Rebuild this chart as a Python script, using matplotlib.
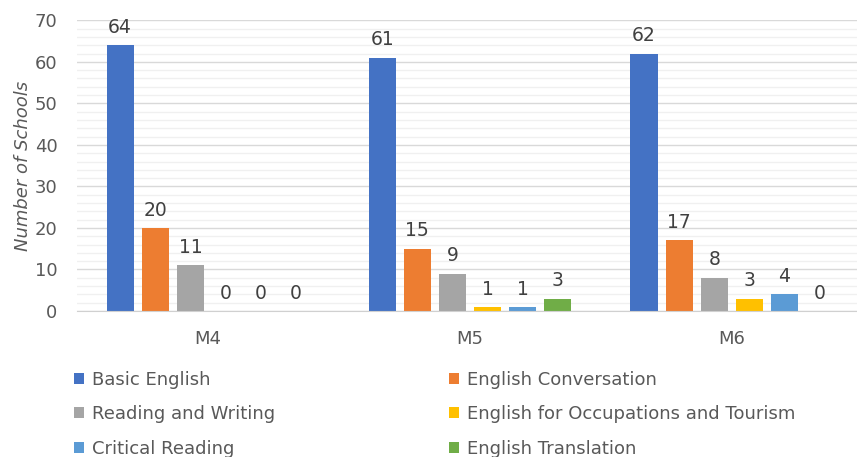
import numpy as np
import matplotlib
matplotlib.use("Agg")
import matplotlib.pyplot as plt
from matplotlib.ticker import MultipleLocator

# ---- data
grades = ["M4", "M5", "M6"]
courses = [
    "Basic English",
    "English Conversation",
    "Reading and Writing",
    "English for Occupations and Tourism",
    "Critical Reading",
    "English Translation",
]
basic_english = [64, 61, 62]
conversation = [20, 15, 17]
reading_writing = [11, 9, 8]
occupations_tourism = [0, 1, 3]
critical_reading = [0, 1, 4]
translation = [0, 3, 0]

series = [basic_english, conversation, reading_writing,
          occupations_tourism, critical_reading, translation]
colors = ["#4472C4", "#ED7D31", "#A5A5A5", "#FFC000", "#5B9BD5", "#70AD47"]

# ---- figure
plt.rcParams["font.family"] = "DejaVu Sans"
fig = plt.figure(figsize=(8.57, 4.57), dpi=100)
ax = fig.add_axes([0.0898, 0.3195, 0.917, 0.636])

x = np.arange(len(grades))
step = 0.134
width = 0.104

handles = []
for i, (vals, name, c) in enumerate(zip(series, courses, colors)):
    pos = x + (i - 2.5) * step
    bars = ax.bar(pos, vals, width, color=c, label=name, zorder=3)
    handles.append(bars)
    for xp, v in zip(pos, vals):
        ax.text(xp, v + 2.0, str(v), ha="center", va="bottom",
                fontsize=13.5, color="#404040")

ax.set_xlim(-0.5, 2.5)
ax.set_ylim(0, 70)
ax.yaxis.set_major_locator(MultipleLocator(10))
ax.yaxis.set_minor_locator(MultipleLocator(2))
ax.grid(axis="y", which="major", color="#d9d9d9", linewidth=1.0, zorder=0)
ax.grid(axis="y", which="minor", color="#f0f0f0", linewidth=1.0, zorder=0)

for side in ["top", "right", "left"]:
    ax.spines[side].set_visible(False)
ax.spines["bottom"].set_color("#d0d0d0")
ax.spines["bottom"].set_zorder(4)

ax.set_xticks(x)
ax.set_xticklabels(grades)
ax.tick_params(axis="x", length=0, pad=14, labelsize=13, colors="#595959")
ax.tick_params(axis="y", which="both", length=0, pad=14, labelsize=13,
               colors="#595959")

ax.set_ylabel("Number of Schools", fontsize=13, style="italic",
              color="#595959", labelpad=2)

# legend filled row by row: reorder for matplotlib's column-major fill
order = [0, 2, 4, 1, 3, 5]
fig.legend([handles[k] for k in order], [courses[k] for k in order],
           loc="upper left", bbox_to_anchor=(0.078, 0.205), ncol=2,
           frameon=False, fontsize=13, labelcolor="#595959",
           handlelength=0.55, handleheight=0.55, handletextpad=0.45,
           columnspacing=9.6, labelspacing=0.92, borderaxespad=0)

fig.savefig("out.png", dpi=100)
